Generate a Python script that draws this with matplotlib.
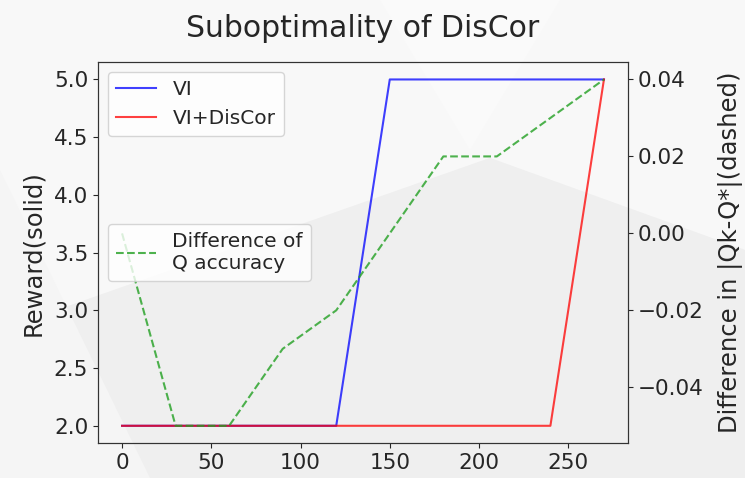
import numpy as np
import matplotlib
matplotlib.use("Agg")
import matplotlib.pyplot as plt
from matplotlib.patches import Polygon

# iterations of value iteration
steps = [0, 30, 60, 90, 120, 150, 180, 210, 240, 270]
reward_vi = [2.0, 2.0, 2.0, 2.0, 2.0, 5.0, 5.0, 5.0, 5.0, 5.0]
reward_discor = [2.0, 2.0, 2.0, 2.0, 2.0, 2.0, 2.0, 2.0, 2.0, 5.0]
q_diff = [0.00, -0.05, -0.05, -0.03, -0.02, 0.00, 0.02, 0.02, 0.03, 0.04]

dark = "#262626"
plt.rcParams.update({
    "text.color": dark,
    "axes.labelcolor": dark,
    "axes.edgecolor": "#333333",
    "xtick.color": dark,
    "ytick.color": dark,
})

W, H = 745.0, 478.0
fig = plt.figure(figsize=(7.45, 4.78), dpi=100, facecolor="#f3f3f3")

def px(pts):
    # pixel coords (from top left) -> figure fraction
    return [[x / W, 1 - y / H] for x, y in pts]

# faint background shapes of the screenshot
fig.patches.append(Polygon(px([(0, 0), (745, 0), (745, 250), (490, 158), (0, 330)]),
                           closed=True, transform=fig.transFigure,
                           facecolor="#f8f8f8", edgecolor="none", zorder=-3))
fig.patches.append(Polygon(px([(380, 0), (560, 0), (470, 150)]),
                           closed=True, transform=fig.transFigure,
                           facecolor="#fafafa", edgecolor="none", zorder=-2))
fig.patches.append(Polygon(px([(0, 478), (0, 330), (490, 158), (745, 250), (745, 478)]),
                           closed=True, transform=fig.transFigure,
                           facecolor="#efefef", edgecolor="none", zorder=-2))
fig.patches.append(Polygon(px([(0, 478), (0, 170), (150, 478)]),
                           closed=True, transform=fig.transFigure,
                           facecolor="#f5f5f5", edgecolor="none", zorder=-1))

ax1 = fig.add_axes([0.1315, 0.073, 0.7115, 0.797])
ax1.set_facecolor("none")
ax1.plot(steps, reward_vi, color="blue", alpha=0.75, linewidth=1.5, label="VI")
ax1.plot(steps, reward_discor, color="red", alpha=0.75, linewidth=1.5, label="VI+DisCor")
ax1.set_ylabel("Reward(solid)", fontsize=17.5, labelpad=6)
ax1.tick_params(labelsize=15.5)
ax1.legend(loc="upper left", fontsize=14.5)

ax2 = ax1.twinx()
ax2.plot(steps, q_diff, "--", color="#22a022", alpha=0.8, linewidth=1.5,
         label="Difference of\nQ accuracy")
ax2.set_ylabel("Difference in |Qk-Q*|(dashed)", fontsize=17.5, labelpad=10)
ax2.tick_params(labelsize=15.5)
ax2.legend(loc="center left", fontsize=14.5)

ax1.set_title("Suboptimality of DisCor", fontsize=21.5, pad=18)

fig.savefig("out.png", dpi=100, facecolor=fig.get_facecolor())
